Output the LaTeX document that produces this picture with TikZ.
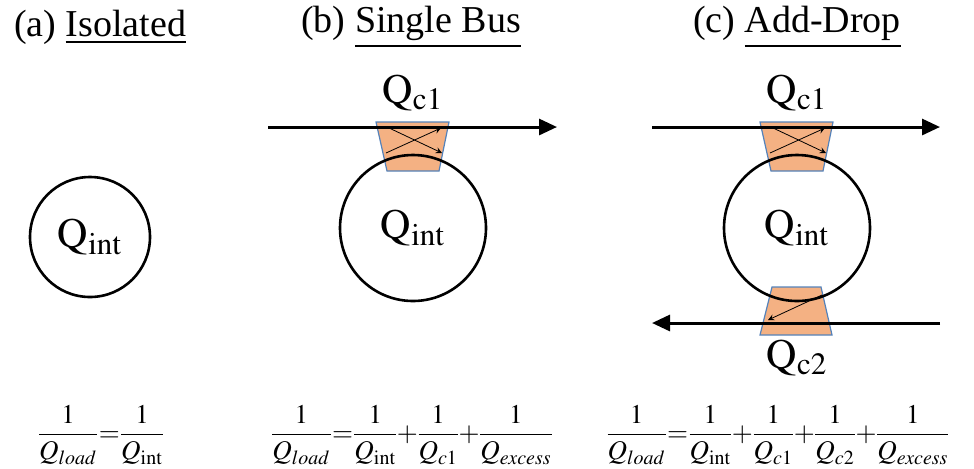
\documentclass[tikz,border=0pt]{standalone}
\usepackage{amsmath}
\usepackage{mathptmx}
\usepackage{fontspec}
\setmainfont{Liberation Serif}
\usetikzlibrary{arrows.meta}
\definecolor{couplerfill}{RGB}{244,177,131}
\definecolor{couplerline}{RGB}{84,130,186}
\newcommand{\qfrac}[1]{\dfrac{1}{#1}}
\newcommand{\tighteq}{\thickmuskip=1mu\relax\medmuskip=0.5mu\relax\nulldelimiterspace=0pt\relax}
\tikzset{
  title/.style={font=\fontsize{19}{22}\selectfont, inner sep=0pt},
  ring/.style={circle, draw, line width=1.3pt, inner sep=0pt, font=\fontsize{21}{24}\selectfont},
  bus/.style={line width=1.5pt, -{Triangle[length=9pt,width=8pt]}},
  coupler/.style={fill=couplerfill, draw=couplerline, line width=0.6pt},
  cross/.style={->, line width=0.4pt},
  qlabel/.style={font=\fontsize{21}{24}\selectfont, inner sep=0pt},
  eq/.style={font=\fontsize{13.5}{16}\selectfont, inner sep=0pt}
}
\begin{document}
\begin{tikzpicture}[x=0.5pt, y=-0.5pt, >=stealth]
  \useasboundingbox (0,0) rectangle (974,468);
  % titles
  \node[title] (ta) at (100,27) {(a) \underline{Isolated}};
  \node[title] (tb) at (411,27) {(b) \underline{Single Bus}};
  \node[title] (tc) at (797,27) {(c) \underline{Add-Drop}};
  % couplers
  \foreach \dx in {0,384} {
    \draw[coupler] (376+\dx,122) -- (449+\dx,122) -- (439+\dx,171) -- (387+\dx,171) -- cycle;
    \draw[cross] (387+\dx,127) -- (442+\dx,153);
    \draw[cross] (386+\dx,153) -- (441+\dx,128);
  }
  \draw[coupler] (772,287) -- (821,287) -- (832,335) -- (760,335) -- cycle;
  \draw[cross] (822,295) -- (768,320);
  % rings
  \node[ring, minimum size=60pt] (ra) at (90,237) {$\mathrm{Q}_{\mathrm{int}}$};
  \node[ring, minimum size=73pt] (rb) at (413,228) {$\mathrm{Q}_{\mathrm{int}}$};
  \node[ring, minimum size=73pt] (rc) at (797,228) {$\mathrm{Q}_{\mathrm{int}}$};
  % bus waveguides
  \coordinate (b-in) at (268,127);
  \coordinate (b-out) at (557,127);
  \coordinate (c-in) at (652,127);
  \coordinate (c-thru) at (940,127);
  \coordinate (c-add) at (940,323);
  \coordinate (c-drop) at (652,323);
  \draw[bus] (b-in) -- (b-out);
  \draw[bus] (c-in) -- (c-thru);
  \draw[bus] (c-add) -- (c-drop);
  % coupling labels
  \node[qlabel] (qb1) at (413,93) {$\mathrm{Q}_{\mathrm{c1}}$};
  \node[qlabel] (qc1) at (797,93) {$\mathrm{Q}_{\mathrm{c1}}$};
  \node[qlabel] (qc2) at (797,358) {$\mathrm{Q}_{\mathrm{c2}}$};
  % equations
  \node[eq] (eqa) at (101,435) {\tighteq$\qfrac{Q_{load}}=\qfrac{Q_{\mathrm{int}}}$};
  \node[eq] (eqb) at (412,435) {\tighteq$\qfrac{Q_{load}}=\qfrac{Q_{\mathrm{int}}}+\qfrac{Q_{c1}}+\qfrac{Q_{excess}}$};
  \node[eq] (eqc) at (778,435) {\tighteq$\qfrac{Q_{load}}=\qfrac{Q_{\mathrm{int}}}+\qfrac{Q_{c1}}+\qfrac{Q_{c2}}+\qfrac{Q_{excess}}$};
\end{tikzpicture}
\end{document}
